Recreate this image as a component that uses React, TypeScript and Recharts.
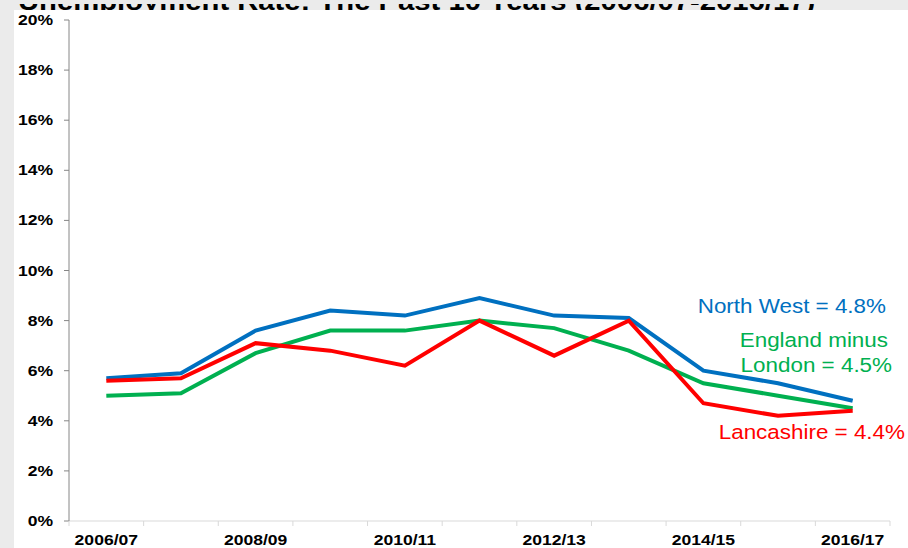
import React from "react";
import { LineChart, Line, XAxis, YAxis } from "recharts";

const years = ["2006/07", "2007/08", "2008/09", "2009/10", "2010/11", "2011/12", "2012/13", "2013/14", "2014/15", "2015/16", "2016/17"];
const northWest = [5.7, 5.9, 7.6, 8.4, 8.2, 8.9, 8.2, 8.1, 6.0, 5.5, 4.8];
const englandMinusLondon = [5.0, 5.1, 6.7, 7.6, 7.6, 8.0, 7.7, 6.8, 5.5, 5.0, 4.5];
const lancashire = [5.6, 5.7, 7.1, 6.8, 6.2, 8.0, 6.6, 8.0, 4.7, 4.2, 4.4];
const yTicks = [0, 2, 4, 6, 8, 10, 12, 14, 16, 18, 20];

const data = years.map((y, i) => ({
  year: y,
  nw: northWest[i],
  eml: englandMinusLondon[i],
  lan: lancashire[i],
}));

const FONT = "'Liberation Sans', Arial, sans-serif";
const SX = 1.17;

const Stretch = ({ x, y, anchor, size, bold, fill, children, sx }: any) => (
  <text
    transform={`translate(${x},${y}) scale(${sx || SX},1)`}
    textAnchor={anchor}
    fontFamily={FONT}
    fontWeight={bold ? "bold" : "normal"}
    fontSize={size}
    fill={fill}
  >
    {children}
  </text>
);

const XTick = (props: any) => {
  const { x, payload, index } = props;
  const off = payload && typeof payload.offset === "number" && payload.offset > 0 ? payload.offset : 37.3;
  const isLast = index === years.length - 1;
  return (
    <g>
      <line x1={x - off} x2={x - off} y1={521} y2={526} stroke="#d9d9d9" strokeWidth={1} />
      {isLast && <line x1={x + off} x2={x + off} y1={521} y2={526} stroke="#d9d9d9" strokeWidth={1} />}
      {index % 2 === 0 && (
        <Stretch x={x} y={545} anchor="middle" size={15} bold fill="#000">
          {payload.value}
        </Stretch>
      )}
    </g>
  );
};

const YTick = (props: any) => {
  const { x, y, payload } = props;
  return (
    <Stretch x={x} y={y + 5} anchor="end" size={15} bold fill="#000">
      {`${payload.value}%`}
    </Stretch>
  );
};

const Notes = () => (
  <g>
    <Stretch x={886} y={313} anchor="end" size={19.5} sx={1.15} fill="#0070c0">North West = 4.8%</Stretch>
    <Stretch x={888} y={347} anchor="end" size={19.5} sx={1.15} fill="#00b050">England minus</Stretch>
    <Stretch x={892} y={372} anchor="end" size={19.5} sx={1.15} fill="#00b050">London = 4.5%</Stretch>
    <Stretch x={905} y={439} anchor="end" size={19.5} sx={1.15} fill="#ff0000">Lancashire = 4.4%</Stretch>
  </g>
);

export default function App() {
  return (
    <div style={{ position: "absolute", left: 0, top: 0, width: 908, height: 548, background: "#ebebeb", overflow: "hidden" }}>
      <div style={{ position: "absolute", left: 0, top: 0, width: 908, height: 10, overflow: "hidden" }}>
        <svg width={908} height={10}>
          <text transform={`translate(18,6) scale(${SX},1)`} fontFamily={FONT} fontWeight="bold" fontSize={25} fill="#000">
            Unemployment Rate: The Past 10 Years (2006/07-2016/17)
          </text>
        </svg>
      </div>
      <div style={{ position: "absolute", left: 14, top: 10, width: 894, height: 538, background: "#fff" }} />
      <div style={{ position: "absolute", left: 0, top: 0 }}>
        <LineChart width={908} height={548} data={data} margin={{ top: 20, right: 18, bottom: 0, left: 14 }}>
          <XAxis
            dataKey="year"
            scale="band"
            interval={0}
            height={27}
            tickLine={false}
            axisLine={{ stroke: "#d9d9d9" }}
            tick={<XTick />}
          />
          <YAxis
            width={55}
            domain={[0, 20]}
            ticks={yTicks}
            interval={0}
            tickSize={5}
            tickMargin={11}
            axisLine={{ stroke: "#868686" }}
            tickLine={{ stroke: "#868686" }}
            tick={<YTick />}
          />
          <Line dataKey="nw" stroke="#0070c0" strokeWidth={4} dot={false} isAnimationActive={false} />
          <Line dataKey="eml" stroke="#00b050" strokeWidth={4} dot={false} isAnimationActive={false} />
          <Line dataKey="lan" stroke="#ff0000" strokeWidth={4} dot={false} isAnimationActive={false} />
          <Notes />
        </LineChart>
      </div>
    </div>
  );
}
